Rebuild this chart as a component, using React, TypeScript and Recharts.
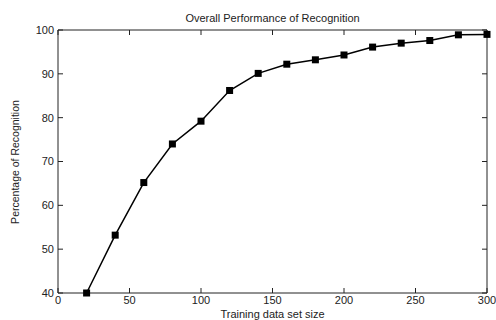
import { LineChart, Line, XAxis, YAxis } from "recharts";

// training set sizes and recognition rates
const sizes = [20, 40, 60, 80, 100, 120, 140, 160, 180, 200, 220, 240, 260, 280, 300];
const recognition = [40, 53.2, 65.2, 74, 79.2, 86.2, 90.1, 92.2, 93.2, 94.3, 96.1, 97, 97.6, 98.9, 99];

const xTicks = [0, 50, 100, 150, 200, 250, 300];
const yTicks = [40, 50, 60, 70, 80, 90, 100];

const data = sizes.map((size, i) => ({ size, rate: recognition[i] }));

const axisColor = "#222";
const font = "Arial, 'Liberation Sans', sans-serif";
const tickStyle = { fill: "#222", fontSize: 11, fontFamily: font };

function SquareDot(props: any) {
  const { cx, cy } = props;
  if (cx == null || cy == null) return <g />;
  return <rect x={cx - 3.5} y={cy - 3.5} width={7} height={7} fill="#000" />;
}

const noLabel = () => <g />;

export default function App() {
  return (
    <div style={{ position: "relative", width: 496, height: 320, background: "#fff", overflow: "hidden" }}>
      <style>{"body{margin:0}"}</style>
      <LineChart
        width={496}
        height={320}
        data={data}
        margin={{ top: 29, right: 8, left: 0, bottom: 0 }}
      >
        <XAxis
          dataKey="size"
          type="number"
          domain={[0, 300]}
          ticks={xTicks}
          height={27}
          tickSize={-5}
          tickMargin={8}
          stroke={axisColor}
          tick={tickStyle}
        />
        <XAxis
          xAxisId="top"
          dataKey="size"
          orientation="top"
          type="number"
          domain={[0, 300]}
          ticks={xTicks}
          height={1}
          tickSize={-5}
          stroke={axisColor}
          tick={noLabel}
        />
        <YAxis
          type="number"
          domain={[40, 100]}
          ticks={yTicks}
          width={58}
          tickSize={-5}
          tickMargin={9}
          stroke={axisColor}
          tick={tickStyle}
        />
        <YAxis
          yAxisId="right"
          orientation="right"
          type="number"
          domain={[40, 100]}
          ticks={yTicks}
          width={1}
          tickSize={-5}
          stroke={axisColor}
          tick={noLabel}
        />
        {/* invisible copy so the box axes on top/right get drawn */}
        <Line
          xAxisId="top"
          yAxisId="right"
          dataKey="rate"
          stroke="none"
          dot={false}
          activeDot={false}
          isAnimationActive={false}
        />
        <Line
          dataKey="rate"
          stroke="#000"
          strokeWidth={1.5}
          dot={<SquareDot />}
          isAnimationActive={false}
        />
      </LineChart>
      <div
        style={{
          position: "absolute",
          left: 58,
          width: 429,
          top: 11,
          textAlign: "center",
          fontFamily: font,
          fontSize: 11,
          lineHeight: "14px",
          color: "#222",
        }}
      >
        Overall Performance of Recognition
      </div>
      <div
        style={{
          position: "absolute",
          left: 58,
          width: 429,
          top: 307,
          textAlign: "center",
          fontFamily: font,
          fontSize: 11,
          lineHeight: "14px",
          color: "#222",
        }}
      >
        Training data set size
      </div>
      <div
        style={{
          position: "absolute",
          left: 15 - 80,
          top: 162 - 7,
          width: 160,
          textAlign: "center",
          transform: "rotate(-90deg)",
          fontFamily: font,
          fontSize: 10.5,
          lineHeight: "14px",
          color: "#222",
        }}
      >
        Percentage of Recognition
      </div>
    </div>
  );
}
